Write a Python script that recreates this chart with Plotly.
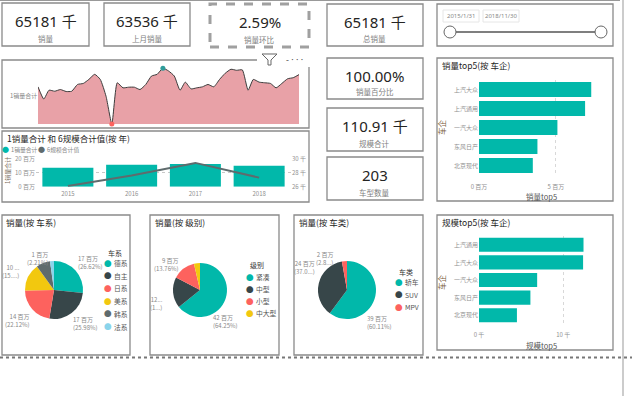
import plotly.graph_objects as go
import pandas as pd
import numpy as np

W, H = 635, 396
FONT = "Noto Sans CJK SC"
NUMFONT = "Noto Sans, Noto Sans CJK SC"

# ---------------- data ----------------
kpi_values = ["65181 千", "63536 千", "2.59%", "65181 千", "100.00%", "110.91 千", "203"]
kpi_labels = ["销量", "上月销量", "销量环比", "总销量", "销量百分比", "规模合计", "车型数量"]

slicer_dates = ["2015/1/31", "2018/11/30"]

months = pd.date_range("2015-01-01", periods=47, freq="MS")
monthly_sales = [1346, 1216, 1310, 1299, 1317, 1296, 1299, 1371, 1382, 1425,
                 1479, 1425, 1245, 950, 1389, 1335, 1342, 1342, 1317, 1371,
                 1461, 1479, 1544, 1515, 1461, 1310, 1396, 1324, 1335, 1346,
                 1371, 1346, 1425, 1490, 1533, 1522, 1526, 1310, 1425, 1396,
                 1389, 1382, 1335, 1382, 1432, 1443, 1476]

years = ["2015", "2016", "2017", "2018"]
yearly_sales = [13.5, 15.6, 16.3, 14.9]      # 百万
yearly_scale = [26.1, 27.6, 29.4, 27.3]      # 千
sales_ticks = [0, 10, 20]
sales_ticktext = ["0 百万", "10 百万", "20 百万"]
scale_ticks = [26, 28, 30]
scale_ticktext = ["26 千", "28 千", "30 千"]

top5_sales_companies = ["上汽大众", "上汽通用", "一汽大众", "东风日产", "北京现代"]
top5_sales_values = [7.3, 6.9, 5.1, 3.8, 3.5]          # 百万
top5_sales_ticks = [0, 5]
top5_sales_ticktext = ["0 百万", "5 百万"]

top5_scale_companies = ["上汽通用", "上汽大众", "一汽大众", "东风日产", "北京现代"]
top5_scale_values = [12.4, 12.35, 6.9, 6.1, 4.5]       # 千
top5_scale_ticks = [0, 10]
top5_scale_ticktext = ["0 千", "10 千"]

series_labels = ["德系", "自主", "日系", "美系", "韩系", "法系"]
series_values = [17.35, 16.93, 14.42, 9.97, 5.07, 1.44]
series_text = ["17 百万<br>(26.62%)", "17 百万<br>(25.98%)", "14 百万<br>(22.12%)",
               "10 ...<br>(15....)", "", "1 百万<br>(2.21%)"]

level_labels = ["紧凑", "中型", "小型", "中大型"]
level_values = [41.88, 12.0, 8.97, 2.34]
level_text = ["42 百万<br>(64.25%)", "12...<br>(1...)", "9 百万<br>(13.76%)", ""]

type_labels = ["轿车", "SUV", "MPV"]
type_values = [39.18, 24.16, 1.84]
type_text = ["39 百万<br>(60.11%)", "24 百万<br>(37.0...)", "2 百万<br>(2.8...)"]

# ---------------- styles ----------------
TEAL = "#01B8AA"
PAL6 = ["#01B8AA", "#374649", "#FD625E", "#F2C80F", "#5F6B6D", "#8AD4EB"]
BORDER = "#8a8a8a"
TICK = "#8f8f8f"


def fx(p):
    return p / W


def fy(p):
    return 1 - p / H


shapes = []
annotations = []


def rect(x0, y0, x1, y1, color=BORDER, width=1.3, dash=None, fill="rgba(0,0,0,0)"):
    line = dict(color=color, width=width)
    if dash:
        line["dash"] = dash
    shapes.append(dict(type="rect", xref="paper", yref="paper",
                       x0=fx(x0), x1=fx(x1), y0=fy(y1), y1=fy(y0),
                       line=line, fillcolor=fill))


def hline(x0, x1, y, color, width=1, dash=None):
    line = dict(color=color, width=width)
    if dash:
        line["dash"] = dash
    shapes.append(dict(type="line", xref="paper", yref="paper",
                       x0=fx(x0), x1=fx(x1), y0=fy(y), y1=fy(y), line=line))


def vline(x, y0, y1, color, width=1):
    shapes.append(dict(type="line", xref="paper", yref="paper",
                       x0=fx(x), x1=fx(x), y0=fy(y0), y1=fy(y1),
                       line=dict(color=color, width=width)))


def txt(x, y, s, size=8, color="#666666", xanchor="center", yanchor="middle",
        angle=0, family=FONT, align="center"):
    annotations.append(dict(x=fx(x), y=fy(y), xref="paper", yref="paper", text=s,
                            showarrow=False, xanchor=xanchor, yanchor=yanchor,
                            textangle=angle, align=align,
                            font=dict(size=size, color=color, family=family)))


# ---------------- KPI cards ----------------
kpi_boxes = [(2, 3, 89, 46), (104, 3, 190, 46), (210, 4, 309, 47), (327, 4, 423, 46),
             (327, 58, 423, 99), (327, 108, 423, 151), (327, 157, 423, 200)]
for i, (b, v, l) in enumerate(zip(kpi_boxes, kpi_values, kpi_labels)):
    x0, y0, x1, y1 = b
    if i == 2:
        rect(x0, y0, x1, y1, color="#a0a0a0", width=3, dash="dash")
    else:
        rect(x0, y0, x1, y1)
    txt((x0 + x1) / 2, y0 + 18.5, v, size=15, color="#252423", family=NUMFONT)
    txt((x0 + x1) / 2, y1 - 7.5, l, size=7.5, color="#808080")

# slicer
rect(437, 4, 613, 46)
rect(443, 10, 479, 22, color="#e6e6e6", width=1)
rect(483, 10, 519, 22, color="#e6e6e6", width=1)
txt(461, 16, slicer_dates[0], size=6, color="#888888", family=NUMFONT)
txt(501, 16, slicer_dates[1], size=6, color="#888888", family=NUMFONT)
hline(450, 601, 32, "#555555", width=1.5)
for cx in (450, 601):
    shapes.append(dict(type="circle", xref="paper", yref="paper",
                       x0=fx(cx - 6), x1=fx(cx + 6), y0=fy(38), y1=fy(26),
                       line=dict(color="#666666", width=1), fillcolor="white"))

# chart containers
rect(2, 60, 309, 128)          # area chart
rect(2, 131, 309, 202)         # combo chart
rect(437, 58, 613, 201)        # top5 sales
rect(2, 215, 130, 355)         # pie 1
rect(150, 215, 279, 355)       # pie 2
rect(294, 215, 423, 355)       # pie 3
rect(437, 215, 613, 350)       # top5 scale
hline(0, 632, 357.5, "#777777", width=2, dash="dot")
vline(623, 0, 396, "#bbbbbb", width=1.5)
hline(0, 620, 0.5, "#999999", width=1)

# header icons on area chart
shapes.append(dict(type="rect", xref="paper", yref="paper", x0=fx(257), x1=fx(312),
                   y0=fy(67), y1=fy(52), line=dict(width=0), fillcolor="white"))


def path_px(pts):
    return "M " + " L ".join(f"{fx(a):.5f},{fy(b):.5f}" for a, b in pts) + " Z"


shapes.append(dict(type="path", xref="paper", yref="paper",
                   path=path_px([(262, 54), (277, 54), (271, 60), (271, 65), (268, 65), (268, 60)]),
                   line=dict(color="#666666", width=1), fillcolor="white"))
txt(294, 59.5, "- · · ·", size=9, color="#555555", family=NUMFONT)

# titles
TITLE = 8.5
txt(5, 137.5, "1销量合计 和 6规模合计值(按 年)", size=TITLE, color="#252423", xanchor="left")
txt(440, 65, "销量top5(按 车企)", size=TITLE, color="#252423", xanchor="left")
txt(440, 222, "规模top5(按 车企)", size=TITLE, color="#252423", xanchor="left")
txt(4, 222, "销量(按 车系)", size=TITLE, color="#252423", xanchor="left")
txt(153, 222, "销量(按 级别)", size=TITLE, color="#252423", xanchor="left")
txt(297, 222, "销量(按 车类)", size=TITLE, color="#252423", xanchor="left")

# area label
txt(8, 95.5, "1销量合计", size=6, color="#888888", xanchor="left")

# combo legend and axis title
txt(5.5, 149.3, "●", size=7, color=TEAL)
txt(9, 149.3, "1销量合计", size=5.8, color="#888888", xanchor="left")
txt(41.5, 149.3, "●", size=7, color="#5F6B6D")
txt(45, 149.3, "6规模合计值", size=5.8, color="#888888", xanchor="left")
txt(7, 171, "1销量合计", size=6, color="#7a6a5a", angle=-90)

# bar axis titles
txt(541, 196, "销量top5", size=7.5, color="#555555")
txt(441, 127, "车企", size=7.5, color="#7a5a3a", angle=-90)
txt(541, 345, "规模top5", size=7.5, color="#555555")
txt(441, 282, "车企", size=7.5, color="#7a5a3a", angle=-90)


# pie legends
def pie_legend(title, x_dot, y_title, y0, step, labels, colors):
    txt(x_dot - 2, y_title, title, size=7, color="#333333", xanchor="left")
    for i, (lab, col) in enumerate(zip(labels, colors)):
        yy = y0 + i * step
        txt(x_dot, yy, "●", size=7.5, color=col)
        txt(x_dot + 4, yy, lab, size=6.8, color="#555555", xanchor="left")


pie_legend("车系", 107.5, 253, 263, 12.7, series_labels, PAL6)
pie_legend("级别", 250, 265, 277, 12, level_labels, PAL6)
pie_legend("车类", 399, 272, 282, 12.5, type_labels, PAL6)

# pie data labels (placed like the reference's outside labels)
pie_label_pos = [
    (series_text, [(76, 262, "left"), (71, 323, "left"), (32, 320, "right"),
                   (22, 271, "right"), None, (50, 258, "right")]),
    (level_text, [(211, 321, "left"), (165, 303, "right"), (181, 264, "right"), None]),
    (type_text, [(365, 322, "left"), (317, 267, "right"), (335, 258, "right")]),
]
for texts, poss in pie_label_pos:
    for t, p in zip(texts, poss):
        if p is None or not t:
            continue
        xx, yy, side = p
        txt(xx, yy, t, size=6, color="#888888",
            xanchor="left" if side == "left" else "right", align=side)

# ---------------- traces ----------------
fig = go.Figure()

ymin, ymax = min(monthly_sales), max(monthly_sales)
fig.add_trace(go.Scatter(x=months, y=monthly_sales, mode="lines",
                         line=dict(color="#3c3c3c", width=1, shape="spline", smoothing=0.5),
                         fill="tozeroy", fillcolor="#E8A1A7", xaxis="x", yaxis="y",
                         hoverinfo="skip"))
imin, imax = int(np.argmin(monthly_sales)), int(np.argmax(monthly_sales))
fig.add_trace(go.Scatter(x=[months[imin], months[imax]],
                         y=[monthly_sales[imin], monthly_sales[imax]],
                         mode="markers", marker=dict(color=["#FD625E", "#2E9C9A"], size=5),
                         cliponaxis=False, xaxis="x", yaxis="y"))

fig.add_trace(go.Bar(x=years, y=yearly_sales, marker=dict(color=TEAL, line=dict(width=0)),
                     xaxis="x2", yaxis="y2"))
fig.add_trace(go.Scatter(x=years, y=yearly_scale, mode="lines",
                         line=dict(color="#5F6B6D", width=2), xaxis="x2", yaxis="y3"))

fig.add_trace(go.Bar(x=top5_sales_values, y=top5_sales_companies, orientation="h",
                     marker=dict(color=TEAL, line=dict(width=0)), xaxis="x4", yaxis="y4"))
fig.add_trace(go.Bar(x=top5_scale_values, y=top5_scale_companies, orientation="h",
                     marker=dict(color=TEAL, line=dict(width=0)), xaxis="x5", yaxis="y5"))

pie_common = dict(sort=False, direction="clockwise", rotation=0, textinfo="none",
                  showlegend=False, automargin=False, hoverinfo="skip")
fig.add_trace(go.Pie(labels=series_labels, values=series_values,
                     marker=dict(colors=PAL6, line=dict(width=0)),
                     domain=dict(x=[fx(25), fx(83)], y=[fy(319), fy(261)]), **pie_common))
fig.add_trace(go.Pie(labels=level_labels, values=level_values,
                     marker=dict(colors=PAL6, line=dict(width=0)),
                     domain=dict(x=[fx(173), fx(227)], y=[fy(317), fy(263)]), **pie_common))
fig.add_trace(go.Pie(labels=type_labels, values=type_values,
                     marker=dict(colors=PAL6, line=dict(width=0)),
                     domain=dict(x=[fx(318), fx(376)], y=[fy(319), fy(261)]), **pie_common))

tickfont = dict(size=6, color=TICK, family=FONT)

fig.update_layout(
    width=W, height=H, autosize=False,
    margin=dict(l=0, r=0, t=0, b=0, pad=0, autoexpand=False),
    paper_bgcolor="white", plot_bgcolor="rgba(0,0,0,0)",
    showlegend=False, bargap=0.2,
    shapes=shapes, annotations=annotations,
    xaxis=dict(domain=[fx(38), fx(299)], range=[months[0], months[-1]], visible=False,
               anchor="y", automargin=False),
    yaxis=dict(domain=[fy(124), fy(66)], range=[ymin, ymax + (ymax - ymin) * 0.04],
               visible=False, anchor="x", automargin=False),
    xaxis2=dict(domain=[fx(36), fx(291)], anchor="y2", type="category", tickfont=tickfont,
                showgrid=False, showline=False, ticks="", zeroline=False, automargin=False,
                ticklabelstandoff=2),
    yaxis2=dict(domain=[fy(186.7), fy(158.7)], anchor="x2", range=[0, 20],
                tickvals=sales_ticks, ticktext=sales_ticktext, tickfont=tickfont,
                gridcolor="#c8c8c8", griddash="dot", zeroline=False, showline=False,
                automargin=False),
    yaxis3=dict(overlaying="y2", anchor="x2", side="right", range=[26, 30],
                tickvals=scale_ticks, ticktext=scale_ticktext, tickfont=tickfont,
                showgrid=False, zeroline=False, showline=False, automargin=False),
    xaxis4=dict(domain=[fx(479), fx(602)], anchor="y4", range=[0, 8],
                tickvals=top5_sales_ticks, ticktext=top5_sales_ticktext, tickfont=tickfont,
                gridcolor="#d8d8d8", griddash="dot", zeroline=False, showline=False,
                ticklabelstandoff=7, automargin=False),
    yaxis4=dict(domain=[fy(175), fy(80)], anchor="x4", autorange="reversed",
                type="category", tickfont=tickfont, showgrid=False, showline=False,
                automargin=False),
    xaxis5=dict(domain=[fx(479), fx(597)], anchor="y5", range=[0, 14],
                tickvals=top5_scale_ticks, ticktext=top5_scale_ticktext, tickfont=tickfont,
                gridcolor="#d8d8d8", griddash="dot", zeroline=False, showline=False,
                ticklabelstandoff=6, automargin=False),
    yaxis5=dict(domain=[fy(324), fy(236)], anchor="x5", autorange="reversed",
                type="category", tickfont=tickfont, showgrid=False, showline=False,
                automargin=False),
)

fig.write_html("out.html", config={"displayModeBar": False},
               post_script="document.body.style.margin='0';")
